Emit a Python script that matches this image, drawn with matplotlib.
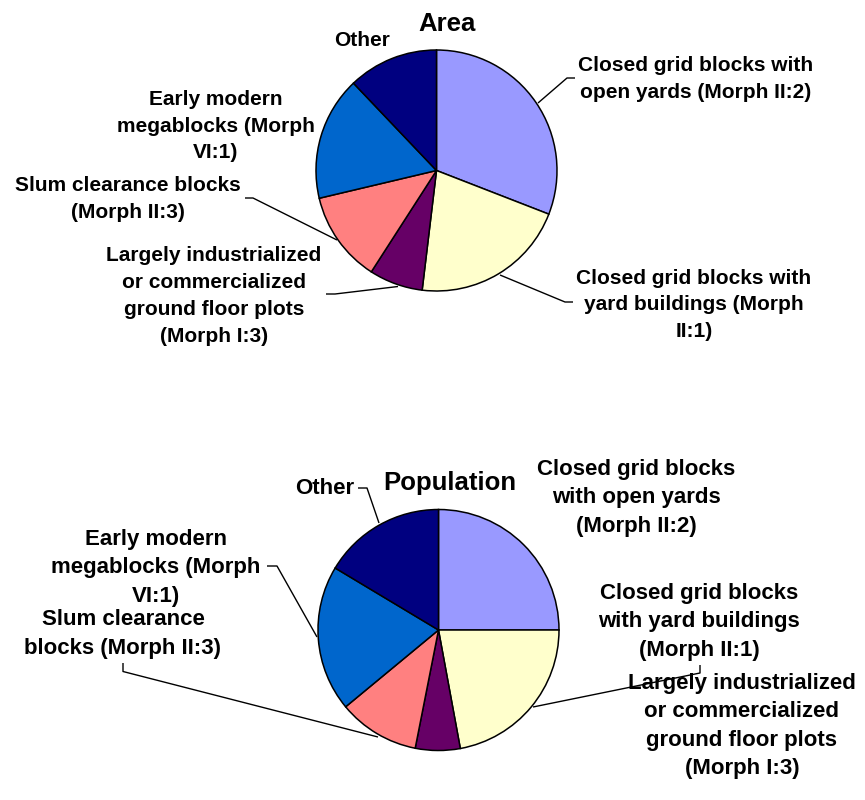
import matplotlib
matplotlib.use("Agg")
import matplotlib.pyplot as plt

# Land-use categories, in drawing order (clockwise from 12 o'clock)
categories = [
    "Closed grid blocks with open yards (Morph II:2)",
    "Closed grid blocks with yard buildings (Morph II:1)",
    "Largely industrialized or commercialized ground floor plots (Morph I:3)",
    "Slum clearance blocks (Morph II:3)",
    "Early modern megablocks (Morph VI:1)",
    "Other",
]
area_share = [30.9, 21.0, 7.2, 12.2, 16.6, 12.1]
population_share = [25.0, 22.1, 6.0, 10.9, 19.6, 16.4]
slice_colors = ["#9999FF", "#FFFFCC", "#660066", "#FF8080", "#0066CC", "#000080"]

W, H = 865, 800
fig = plt.figure(figsize=(W / 100, H / 100), dpi=100)
ax = fig.add_axes([0, 0, 1, 1])
ax.set_xlim(0, W)
ax.set_ylim(0, H)
ax.set_aspect("equal")
ax.axis("off")


def y(py):
    """Screen-style y (from top) to axis y."""
    return H - py


FONT = dict(family="Liberation Sans", weight="bold", color="black")


def label(x, py, text, size=15, ls=1.53):
    ax.text(x, y(py), text, ha="center", va="center", fontsize=size,
            linespacing=ls, **FONT)


def leader(points):
    xs = [p[0] for p in points]
    ys = [y(p[1]) for p in points]
    ax.plot(xs, ys, color="black", lw=1.0, solid_capstyle="butt", zorder=1)


wedge_style = dict(edgecolor="black", linewidth=1.1)

# ---- Area ----
ax.pie(area_share, colors=slice_colors, startangle=90, counterclock=False,
       center=(436.5, y(170.5)), radius=120.5, wedgeprops=wedge_style,
       frame=True)
label(446.7, 24, "Area", size=18.5)
label(696, 79, "Closed grid blocks with\nopen yards (Morph II:2)")
label(694, 305, "Closed grid blocks with\nyard buildings (Morph\nII:1)")
label(214, 296, "Largely industrialized\nor commercialized\nground floor plots\n(Morph I:3)")
label(128, 199, "Slum clearance blocks\n(Morph II:3)")
label(216, 126, "Early modern\nmegablocks (Morph\nVI:1)")
label(361.7, 40, "Other")

leader([(538, 103), (567, 78), (575, 78)])
leader([(500, 275), (565, 302), (573, 302)])
leader([(326, 294), (335, 294), (398, 286.5)])
leader([(245, 198), (253, 198), (337, 240)])

# ---- Population ----
ax.pie(population_share, colors=slice_colors, startangle=90, counterclock=False,
       center=(438.5, y(630)), radius=120.5, wedgeprops=wedge_style,
       frame=True)
BS, BLS = 16, 1.44
label(450, 483, "Population", size=18.5)
label(636, 498, "Closed grid blocks\nwith open yards\n(Morph II:2)", BS, BLS)
label(699, 622, "Closed grid blocks\nwith yard buildings\n(Morph II:1)", BS, BLS)
label(742, 726, "Largely industrialized\nor commercialized\nground floor plots\n(Morph I:3)", BS, BLS)
label(123, 634, "Slum clearance\nblocks (Morph II:3)", BS, BLS)
label(156, 568, "Early modern\nmegablocks (Morph\nVI:1)", BS, BLS)
label(325, 489, "Other", BS, BLS)

leader([(358, 488), (367, 488), (379, 523)])
leader([(267, 566), (277, 566), (317, 637)])
leader([(123, 663), (123, 671.5), (378, 737)])
leader([(700, 665), (700, 673), (533, 707)])

ax.set_xlim(0, W)
ax.set_ylim(0, H)
ax.axis("off")

fig.savefig("out.png", dpi=100, facecolor="white")
